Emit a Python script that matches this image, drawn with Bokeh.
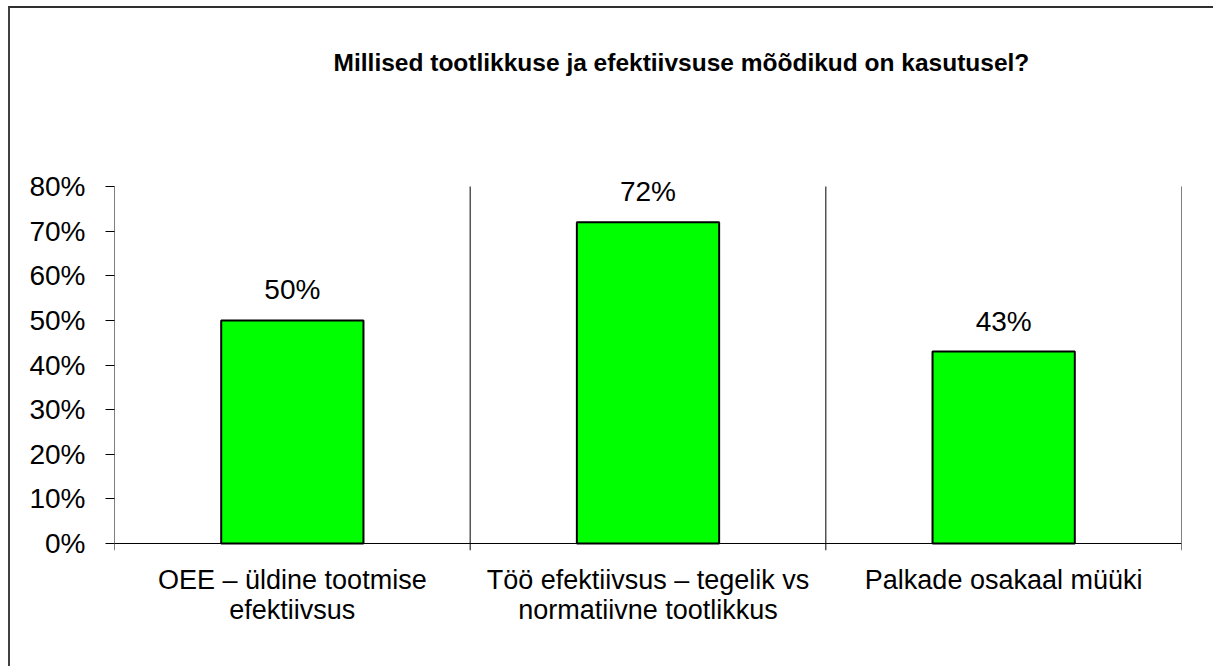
from bokeh.plotting import figure
from bokeh.models import Range1d, FactorRange, FixedTicker, LabelSet, Label, ColumnDataSource, NumeralTickFormatter
from bokeh.core.properties import value
from bokeh.embed import file_html
from bokeh.resources import INLINE

title_text = "Millised tootlikkuse ja efektiivsuse mõõdikud on kasutusel?"
categories = [
    "OEE – üldine tootmise\nefektiivsus",
    "Töö efektiivsus – tegelik vs\nnormatiivne tootlikkus",
    "Palkade osakaal müüki",
]
values = [0.50, 0.72, 0.43]
y_ticks = [0, 0.1, 0.2, 0.3, 0.4, 0.5, 0.6, 0.7, 0.8]

FONT = "Liberation Sans"
Y_BOTTOM = -0.0157   # lets axis lines run a few pixels below 0%
Y_TOP = 1.1765       # room inside the frame for data labels and the title

p = figure(
    width=1205, height=660,
    x_range=FactorRange(factors=categories),
    y_range=Range1d(Y_BOTTOM, Y_TOP),
    output_backend="svg", toolbar_location=None,
    min_border_left=104, min_border_right=34, min_border_top=10, min_border_bottom=118,
)
p.styles = {"margin-left": "8px", "margin-top": "6px",
            "border-left": "2px solid #404040", "border-top": "2px solid #303030"}
p.outline_line_color = None
p.background_fill_color = "white"
p.xgrid.visible = False
p.ygrid.visible = False

labels = [f"{round(v * 100)}%" for v in values]
src = ColumnDataSource(dict(cat=categories, val=values, lab=labels))

p.vbar(x="cat", top="val", width=0.4, bottom=0, source=src,
       fill_color="#00FF00", line_color="black", line_width=2)

# baseline at 0% and vertical lines at category boundaries (incl. value axis line)
n = len(categories)
p.segment(x0=[0], x1=[n], y0=[0], y1=[0], line_color="black", line_width=1)
bounds = list(range(n + 1))
p.segment(x0=bounds, x1=bounds, y0=[Y_BOTTOM] * (n + 1), y1=[y_ticks[-1]] * (n + 1),
          line_color="black", line_width=1)

p.add_layout(LabelSet(x="cat", y="val", text="lab", source=src, text_align="center",
                      text_baseline="bottom", y_offset=15, text_font=value(FONT),
                      text_font_size=value("28px"), text_color="black"))

p.add_layout(Label(x=1.594, y=1.078, text=title_text, text_align="center",
                   text_baseline="middle", text_font=FONT, text_font_style="bold",
                   text_font_size="24.5px", text_color="black"))

ya = p.yaxis[0]
ya.ticker = FixedTicker(ticks=y_ticks)
ya.formatter = NumeralTickFormatter(format="0%")
ya.major_tick_out = 9
ya.major_tick_in = 0
ya.minor_tick_out = 0
ya.minor_tick_in = 0
ya.axis_line_color = None
ya.major_tick_line_color = "black"
ya.major_label_standoff = 20
ya.major_label_text_font = FONT
ya.major_label_text_font_size = "28px"
ya.major_label_text_color = "black"

xa = p.xaxis[0]
xa.axis_line_color = None
xa.major_tick_line_color = None
xa.minor_tick_line_color = None
xa.major_label_standoff = 8
xa.major_label_text_font = FONT
xa.major_label_text_font_size = "27px"
xa.major_label_text_line_height = 1.0
xa.major_label_text_color = "black"

open("out.html", "w").write(file_html(p, INLINE))
